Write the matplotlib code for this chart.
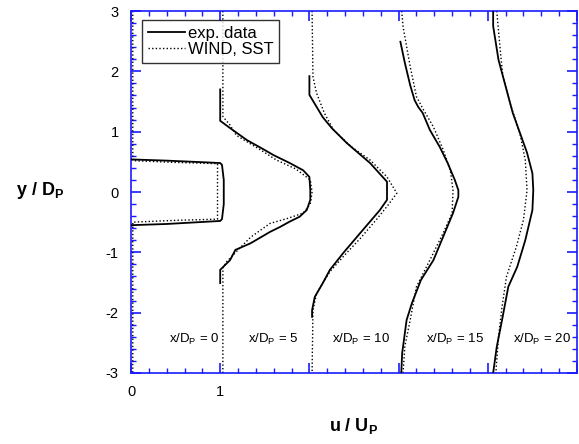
import matplotlib
matplotlib.use("Agg")
import matplotlib.pyplot as plt
from matplotlib.ticker import MultipleLocator

plt.rcParams['font.family'] = ['Liberation Sans', 'DejaVu Sans']
plt.rcParams['mathtext.fontset'] = 'custom'
plt.rcParams['mathtext.rm'] = 'Liberation Sans'
plt.rcParams['mathtext.bf'] = 'Liberation Sans:bold'
plt.rcParams['axes.unicode_minus'] = False

# stations x/D_P and profile data (local u/U_P vs y/D_P)
stations = [0, 5, 10, 15, 20]

exp0_y = [0.54, 0.52, 0.49, 0.48, 0.45, 0.2, -0.2, -0.45, -0.48, -0.53, -0.55]
exp0_u = [0.0, 0.4, 0.86, 1.0, 1.02, 1.04, 1.04, 1.02, 1.0, 0.4, 0.0]
cfd0_y = [3.0, 0.52, 0.49, 0.47, -0.45, -0.47, -0.50, -3.0]
cfd0_u = [0.02, 0.02, 0.5, 0.97, 0.97, 0.5, 0.02, 0.02]

exp1_y = [1.70, 1.18, 1.06, 0.86, 0.72, 0.61, 0.48, 0.36, 0.25, 0.03, -0.13, -0.30,
          -0.41, -0.49, -0.58, -0.66, -0.85, -0.96, -1.13, -1.29, -1.51]
exp1_u = [0.0, 0.0, 0.11, 0.30, 0.47, 0.60, 0.78, 0.93, 1.0, 1.01, 1.01, 0.97,
          0.89, 0.78, 0.67, 0.56, 0.34, 0.17, 0.11, 0.0, 0.0]
cfd1_y = [3.0, 1.25, 1.11, 0.94, 0.70, 0.53, 0.38, 0.2, 0.0, -0.2, -0.35, -0.44,
          -0.52, -0.75, -0.96, -1.16, -1.26, -3.0]
cfd1_u = [0.03, 0.03, 0.11, 0.18, 0.45, 0.63, 0.85, 1.01, 1.03, 1.01, 0.93, 0.75,
          0.56, 0.34, 0.2, 0.07, 0.03, 0.03]

exp2_y = [1.92, 1.61, 1.24, 1.06, 0.81, 0.48, 0.17, -0.13, -0.30, -0.68, -1.01,
          -1.29, -1.51, -1.74, -1.96, -2.07]
exp2_u = [0.0, 0.0, 0.15, 0.25, 0.42, 0.68, 0.87, 0.87, 0.79, 0.57, 0.38,
          0.23, 0.15, 0.06, 0.03, 0.03]
cfd2_y = [3.0, 1.91, 1.64, 1.30, 1.03, 0.75, 0.53, 0.25, -0.02, -0.22, -0.46,
          -0.77, -1.07, -1.32, -1.68, -1.96, -3.0]
cfd2_u = [0.03, 0.04, 0.08, 0.17, 0.27, 0.47, 0.68, 0.87, 0.98, 0.88, 0.75,
          0.57, 0.38, 0.23, 0.08, 0.04, 0.03]

exp3_y = [2.49, 2.14, 1.77, 1.52, 1.41, 1.31, 1.03, 0.75, 0.48, 0.2, 0.03, -0.08,
          -0.35, -0.74, -1.13, -1.46, -1.84, -2.12, -2.67, -3.0]
exp3_u = [0.02, 0.07, 0.13, 0.18, 0.22, 0.27, 0.35, 0.46, 0.55, 0.63, 0.67, 0.67,
          0.61, 0.50, 0.39, 0.25, 0.15, 0.09, 0.04, 0.03]
cfd3_y = [3.0, 2.74, 2.08, 1.58, 1.36, 1.08, 0.70, 0.36, 0.03, -0.35, -0.68,
          -1.13, -1.57, -2.12, -2.56, -3.0]
cfd3_u = [0.035, 0.05, 0.13, 0.2, 0.28, 0.39, 0.5, 0.58, 0.61, 0.6, 0.5,
          0.35, 0.2, 0.13, 0.07, 0.05]

exp4_y = [3.0, 2.75, 2.19, 1.97, 1.64, 1.31, 0.98, 0.65, 0.31, 0.03, -0.3, -0.8,
          -1.24, -1.57, -2.12, -2.57, -3.0]
exp4_u = [0.06, 0.06, 0.12, 0.16, 0.22, 0.28, 0.36, 0.44, 0.5, 0.51, 0.5, 0.42,
          0.33, 0.23, 0.16, 0.1, 0.06]
cfd4_y = [3.0, 2.19, 1.91, 1.47, 0.97, 0.53, 0.03, -0.46, -0.91, -1.40, -1.9,
          -2.4, -3.0]
cfd4_u = [0.1, 0.15, 0.17, 0.25, 0.36, 0.42, 0.44, 0.4, 0.32, 0.21, 0.16,
          0.12, 0.09]

exp_y = [exp0_y, exp1_y, exp2_y, exp3_y, exp4_y]
exp_u = [exp0_u, exp1_u, exp2_u, exp3_u, exp4_u]
cfd_y = [cfd0_y, cfd1_y, cfd2_y, cfd3_y, cfd4_y]
cfd_u = [cfd0_u, cfd1_u, cfd2_u, cfd3_u, cfd4_u]

fig = plt.figure(figsize=(5.79, 4.44), dpi=100)
ax = fig.add_axes([131 / 579, 1 - 373 / 444, 446 / 579, 362 / 444])

dots = (0, (1, 1.6))
for i, st in enumerate(stations):
    lab_e = "exp. data" if i == 0 else None
    lab_c = "WIND, SST" if i == 0 else None
    ax.plot([i + u for u in exp_u[i]], exp_y[i], color="black", lw=1.3,
            label=lab_e, zorder=3)
    ax.plot([i + u for u in cfd_u[i]], cfd_y[i], color="black", lw=1.0,
            linestyle=dots, label=lab_c, zorder=2)

# station labels
lab_x = [0.43, 1.31, 2.25, 3.31, 4.28]
for i, st in enumerate(stations):
    ax.text(lab_x[i], -2.45, r"x/D$_\mathregular{P}$ = %d" % st, fontsize=9.5,
            ha="left", va="center")

ax.set_xlim(0, 5)
ax.set_ylim(-3, 3)
ax.xaxis.set_minor_locator(MultipleLocator(0.2))
ax.yaxis.set_major_locator(MultipleLocator(1))
ax.yaxis.set_minor_locator(MultipleLocator(0.2))
ax.set_xticks([0, 1, 2, 3, 4, 5])
ax.set_xticklabels(["0", "1", "", "", "", ""])

blue = "#1a1aff"
for s in ax.spines.values():
    s.set_color(blue)
    s.set_linewidth(1.2)
ax.tick_params(which="both", direction="in", top=True, right=True, color=blue,
               labelsize=10.5, pad=9)
ax.tick_params(which="major", length=7, width=1.2)
ax.tick_params(which="minor", length=3.5, width=1.0)

ax.set_xlabel(r"u / U$_\mathregular{P}$", fontsize=13, fontweight="bold", labelpad=12)
fig.text(40 / 579, 1 - 190 / 444, r"y / D$_\mathregular{P}$", fontsize=13,
         fontweight="bold", ha="center", va="center")

leg = ax.legend(loc="upper left", bbox_to_anchor=(11 / 446, 1 - 9 / 362),
                borderaxespad=0, fontsize=12, frameon=True, fancybox=False,
                handlelength=2.2, handletextpad=0.2, labelspacing=0.05,
                borderpad=0.35)
leg.get_frame().set_edgecolor("black")
leg.get_frame().set_linewidth(1.0)

fig.savefig("out.png", dpi=100)
